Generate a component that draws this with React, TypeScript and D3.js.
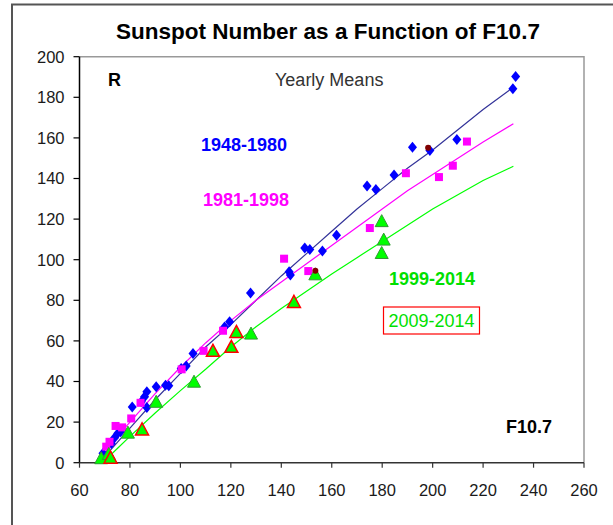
import React from "react";
import * as d3 from "d3";

// ---- Data (F10.7, R) ----
const blue1948: [number, number][] = [
  [69.3, 4.6], [72.6, 9.5], [73.9, 12.3], [75.2, 14.5], [76.3, 15.3], [80.9, 27.5], [84.5, 30.0],
  [85.8, 32.5], [86.7, 34.9], [86.7, 27.2], [90.4, 37.4], [94.1, 38.2], [95.4, 37.9],
  [100.3, 46.4], [102.3, 47.6], [105, 53.8], [117.5, 66.9], [119.5, 69.4], [127.8, 83.6],
  [143.1, 94.1], [143.6, 92.5], [149.3, 105.8], [151.3, 105.0], [156.3, 104.3], [161.9, 112.0],
  [174, 136.3], [177.5, 134.6], [184.7, 141.7], [192, 155.4], [198.9, 153.8], [209.6, 159.2],
  [231.8, 184.2], [232.9, 190.2],
];
const pink1981: [number, number][] = [
  [70.6, 7.9], [71.9, 10.3], [74.3, 18.1], [76.9, 17.4], [80.5, 21.8], [84.2, 29.5],
  [100.5, 46], [109.2, 55.1], [116.9, 65], [141.1, 100.5], [150.7, 94.4], [175.1, 115.6],
  [189.4, 142.6], [202.5, 140.7], [208, 146.3], [213.6, 158.2],
];
const green1999: [number, number][] = [
  [68.6, 2.2], [71.6, 4.3], [79.2, 14.8], [90.4, 30], [105.4, 39.9], [128, 63.6],
  [153.5, 92.8], [179.8, 119], [180.6, 109.9], [179.8, 103.3],
];
const red2009: [number, number][] = [
  [72.3, 2.5], [84.8, 16.4], [112.9, 55.1], [120.2, 57.1], [122.2, 64.4], [145, 79.2],
];
const darkDots: [number, number][] = [[153.5, 94.5], [198.2, 155.1]];

const blueFit: [number, number][] = [
  [68.5, 0], [70, 3], [75, 10], [80, 17], [90, 31], [100, 44], [110, 57], [120, 68], [130, 80],
  [140, 92], [150, 103], [160, 114], [170, 125], [180, 135], [190, 145], [200, 154],
  [210, 164], [220, 174], [232, 185],
];
const pinkFit: [number, number][] = [
  [69, 3], [75, 13], [80, 20], [90, 34], [100, 47], [110, 59], [120, 70], [130, 80], [140, 89],
  [150, 98], [160, 107], [170, 116], [180, 125], [190, 134], [200, 142], [210, 150],
  [220, 158], [232, 167],
];
const greenFit: [number, number][] = [
  [70, 1], [75, 7], [80, 13], [90, 24.5], [100, 35.5], [110, 46], [120, 57], [130, 67],
  [140, 76], [150, 84.5], [160, 93], [170, 101], [180, 109], [190, 117], [200, 125],
  [210, 132], [220, 139], [232, 146],
];

const xTicks = [60, 80, 100, 120, 140, 160, 180, 200, 220, 240, 260];
const yTicks = [0, 20, 40, 60, 80, 100, 120, 140, 160, 180, 200];

const W = 613, H = 525;
const PL = 79.5, PR = 584, PT = 56.7, PB = 462.7;

export default function App() {
  const x = d3.scaleLinear().domain([60, 260]).range([PL, PR]);
  const y = d3.scaleLinear().domain([0, 200]).range([PB, PT]);
  const line = d3.line<[number, number]>().x(d => x(d[0])).y(d => y(d[1]));
  const font = "Arial, 'Liberation Sans', Helvetica, sans-serif";

  const diamond = (cx: number, cy: number) =>
    `M${cx},${cy - 5.5}L${cx + 4.5},${cy}L${cx},${cy + 5.5}L${cx - 4.5},${cy}Z`;
  const tri = (cx: number, cy: number) =>
    `M${cx},${cy - 6.5}L${cx + 6.5},${cy + 5.5}L${cx - 6.5},${cy + 5.5}Z`;

  return (
    <svg width={W} height={H} style={{ position: "absolute", left: 0, top: 0, background: "#fff" }}
      fontFamily={font}>
      <rect x={0} y={0} width={W} height={H} fill="#fff" />
      {/* outer frame */}
      <path d={`M12,${H + 5}L12,4.5L${W + 5},4.5`} fill="none" stroke="#555" strokeWidth={2} />
      {/* title */}
      <text x={328} y={39} textAnchor="middle" fontWeight="bold" fontSize={22.5} fill="#000">
        Sunspot Number as a Function of F10.7
      </text>
      {/* plot border */}
      <path d={`M${PL},${PT}L${PR},${PT}L${PR},${PB}`} fill="none" stroke="#999" strokeWidth={1.5} />
      <line x1={PL} y1={PT} x2={PL} y2={PB} stroke="#000" strokeWidth={1.5} />
      <line x1={PL} y1={PB} x2={PR} y2={PB} stroke="#333" strokeWidth={1.5} />
      {yTicks.map(t => (
        <g key={"y" + t}>
          <line x1={PL - 6} x2={PL} y1={y(t)} y2={y(t)} stroke="#000" strokeWidth={1.2} />
          <text x={PL - 15} y={y(t)} dy="0.36em" textAnchor="end" fontSize={16.5} fill="#1a1a1a">{t}</text>
        </g>
      ))}
      {xTicks.map(t => (
        <g key={"x" + t}>
          <line x1={x(t)} x2={x(t)} y1={PB} y2={PB + 5} stroke="#333" strokeWidth={1.2} />
          <text x={x(t)} y={496} textAnchor="middle" fontSize={16.5} fill="#1a1a1a">{t}</text>
        </g>
      ))}
      {/* fit lines */}
      <path d={line(blueFit) || ""} fill="none" stroke="#333399" strokeWidth={1.2} />
      <path d={line(pinkFit) || ""} fill="none" stroke="#ff00ff" strokeWidth={1.2} />
      <path d={line(greenFit) || ""} fill="none" stroke="#00ff00" strokeWidth={1.2} />
      {/* markers */}
      {blue1948.map((d, i) => (
        <path key={"b" + i} d={diamond(x(d[0]), y(d[1]))} fill="#0000ff" />
      ))}
      {pink1981.map((d, i) => (
        <rect key={"p" + i} x={x(d[0]) - 4} y={y(d[1]) - 4} width={8} height={8} fill="#ff00ff" />
      ))}
      {green1999.map((d, i) => (
        <path key={"g" + i} d={tri(x(d[0]), y(d[1]))} fill="#00ff00" stroke="#339933" strokeWidth={1} />
      ))}
      {red2009.map((d, i) => (
        <path key={"r" + i} d={tri(x(d[0]), y(d[1]))} fill="#00ff00" stroke="#ff0000" strokeWidth={1.5} />
      ))}
      {darkDots.map((d, i) => (
        <circle key={"d" + i} cx={x(d[0])} cy={y(d[1])} r={3} fill="#800000" />
      ))}
      {/* annotations */}
      <text x={108} y={86} fontWeight="bold" fontSize={18} fill="#000">R</text>
      <text x={275} y={86} fontSize={18} fill="#333">Yearly Means</text>
      <text x={201} y={151} fontWeight="bold" fontSize={18} fill="#0000ff">1948-1980</text>
      <text x={203} y={206} fontWeight="bold" fontSize={18} fill="#ff00ff">1981-1998</text>
      <text x={389} y={285} fontWeight="bold" fontSize={18} fill="#00e000">1999-2014</text>
      <rect x={383.5} y={307} width={96} height={27} fill="#fff" stroke="#ff0000" strokeWidth={1.2} />
      <text x={431.5} y={327} textAnchor="middle" fontSize={18} fill="#00e000">2009-2014</text>
      <text x={506} y={433} fontWeight="bold" fontSize={18} fill="#000">F10.7</text>
    </svg>
  );
}
